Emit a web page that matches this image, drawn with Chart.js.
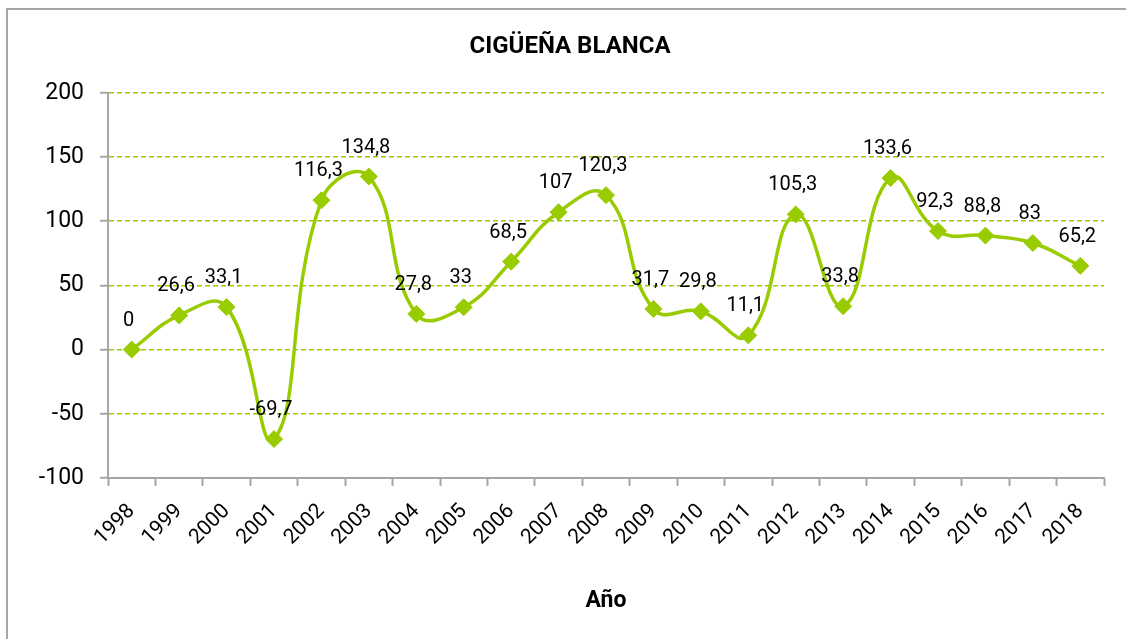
<!DOCTYPE html>
<html>
<head>
<meta charset="utf-8">
<script src="https://cdn.jsdelivr.net/npm/chart.js@4.4.1/dist/chart.umd.min.js"></script>
<style>
    html, body { margin: 0; padding: 0; background: #fff; overflow: hidden; }
    #frame { position: absolute; left: 6px; top: 8px; width: 1200px; height: 700px; border: 2px solid #a6a6a6; }
    #wrap { position: absolute; left: 0; top: 0; width: 1126px; height: 639px; }
</style>
</head>
<body>
<div id="frame"></div>
<div id="wrap"><canvas id="storkChart" width="1126" height="639"></canvas></div>
<script>
// Chart data
const years = ['1998', '1999', '2000', '2001', '2002', '2003', '2004', '2005', '2006', '2007',
               '2008', '2009', '2010', '2011', '2012', '2013', '2014', '2015', '2016', '2017', '2018'];
const values = [0, 26.6, 33.1, -69.7, 116.3, 134.8, 27.8, 33, 68.5, 107,
                120.3, 31.7, 29.8, 11.1, 105.3, 33.8, 133.6, 92.3, 88.8, 83, 65.2];
const yTicks = [-100, -50, 0, 50, 100, 150, 200];

const GREEN = '#99cc00';
const GREY = '#a6a6a6';
const FONT = 'Roboto, "DejaVu Sans", sans-serif';

// Value labels above each point, with decimal comma
const valueLabels = {
    id: 'valueLabels',
    afterDatasetsDraw(chart) {
        const ctx = chart.ctx;
        const meta = chart.getDatasetMeta(0);
        ctx.save();
        ctx.font = '20px ' + FONT;
        ctx.fillStyle = '#000';
        ctx.textAlign = 'center';
        ctx.textBaseline = 'bottom';
        meta.data.forEach((pt, i) => {
            const txt = String(values[i]).replace('.', ',');
            ctx.fillText(txt, pt.x - 3, pt.y - 19);
        });
        ctx.restore();
    }
};

document.addEventListener('DOMContentLoaded', function() {
    const ctx = document.getElementById('storkChart').getContext('2d');
    new Chart(ctx, {
        type: 'line',
        data: {
            labels: years,
            datasets: [{
                data: values,
                borderColor: GREEN,
                backgroundColor: GREEN,
                borderWidth: 3.5,
                tension: 0.45,
                pointStyle: 'rectRot',
                pointRadius: 8.5,
                pointBorderWidth: 1,
                pointBackgroundColor: GREEN,
                pointBorderColor: GREEN,
                fill: false
            }]
        },
        options: {
            responsive: false,
            animation: false,
            devicePixelRatio: 1,
            layout: { padding: { left: 36, right: 22, top: 0, bottom: 0 } },
            plugins: {
                legend: { display: false },
                tooltip: { enabled: false },
                title: {
                    display: true,
                    text: 'CIGÜEÑA BLANCA',
                    color: '#000',
                    font: { family: FONT, size: 24, weight: 'bold' },
                    padding: { top: 33, bottom: 31 }
                }
            },
            scales: {
                x: {
                    offset: true,
                    grid: { offset: true, drawOnChartArea: false, tickLength: 8, tickColor: GREY, tickWidth: 2 },
                    border: { color: GREY, width: 2 },
                    ticks: {
                        color: '#000',
                        font: { family: FONT, size: 21 },
                        minRotation: 45,
                        maxRotation: 45,
                        padding: 13,
                        autoSkip: false
                    },
                    title: {
                        display: true,
                        text: 'Año',
                        color: '#000',
                        font: { family: FONT, size: 23, weight: 'bold' },
                        padding: { top: 0, bottom: 24 }
                    },
                    afterFit(scale) { scale.height = 161; }
                },
                y: {
                    min: -100,
                    max: 200,
                    afterBuildTicks(scale) { scale.ticks = yTicks.map(v => ({ value: v })); },
                    grid: { color: GREEN, lineWidth: 1.5, tickLength: 8, tickColor: GREY, tickWidth: 2 },
                    border: { color: GREY, width: 2, dash: [5, 3] },
                    ticks: {
                        color: '#000',
                        font: { family: FONT, size: 23 },
                        padding: 16
                    },
                    afterFit(scale) { scale.width = 72; }
                }
            }
        },
        plugins: [valueLabels]
    });
});
</script>
</body>
</html>
